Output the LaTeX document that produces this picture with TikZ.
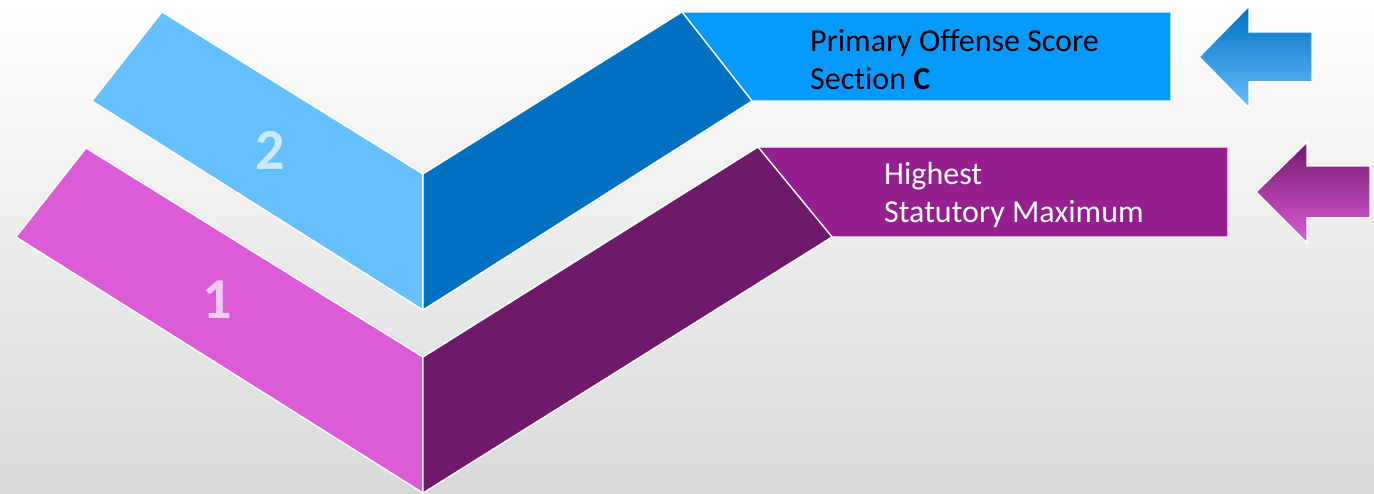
\documentclass[tikz,border=0pt]{standalone}
\usepackage{fontspec}
\setmainfont{Carlito}[RawFeature={-liga}]
\definecolor{lblue}{HTML}{66BFFF}
\definecolor{dblue}{HTML}{0070C0}
\definecolor{rblue}{HTML}{0399FF}
\definecolor{magen}{HTML}{DC5CD8}
\definecolor{dpurp}{HTML}{6F196A}
\definecolor{rpurp}{HTML}{951F8F}
\definecolor{bgbot}{HTML}{D9D9D9}
\definecolor{bgmid}{HTML}{F0F0F0}
\definecolor{numtwo}{HTML}{CDE9FF}
\definecolor{numone}{HTML}{F3C9F2}
\begin{document}
\begin{tikzpicture}[x=1pt,y=-1pt,
  panel/.style={draw=white, line width=1.3pt, line join=miter},
  bignum/.style={font=\bfseries\fontsize{58}{60}\selectfont, inner sep=0pt},
  label/.style={font=\fontsize{32}{38}\selectfont, align=left, anchor=base west, inner sep=0pt},
  arrowshape/.style={draw=white, line width=1.5pt, line join=miter}]
\useasboundingbox (0,0) rectangle (1374,494);
\shade[top color=white, middle color=bgmid, bottom color=bgbot] (0,0) rectangle (1374,494);
% level 2 (blue)
\fill[lblue, panel] (162,12) -- (92,101) -- (423,310) -- (423,174) -- cycle;
\fill[rblue, panel] (682,12) -- (1171,12) -- (1171,101) -- (752,101) -- cycle;
\fill[dblue, panel] (423,174) -- (682,12) -- (752,101) -- (423,310) -- cycle;
% level 1 (purple)
\fill[magen, panel] (86,148) -- (16,237) -- (423,493) -- (423,357) -- cycle;
\fill[rpurp, panel] (758,147) -- (1228,147) -- (1228,237) -- (832,237) -- cycle;
\fill[dpurp, panel] (423,357) -- (758,147) -- (832,237) -- (423,493) -- cycle;
% numbers
\node[bignum, text=numtwo] (n2) at (270,150) {2};
\node[bignum, text=numone] (n1) at (217,300) {1};
% labels (anchor = baseline of last line)
\node[label, text=black] (t2) at (810,90) {Primary Offense Score\\Section \textbf{C}};
\node[label, text=white] (t1) at (884,223) {Highest\\Statutory Maximum};
% arrows
\shade[top color=dblue, middle color=rblue, bottom color=lblue, arrowshape]
  (1199,57) -- (1249,6) -- (1249,32) -- (1312,32) -- (1312,82) -- (1249,82) -- (1249,108) -- cycle;
\shade[top color=dpurp, middle color=rpurp!85!magen, bottom color=magen, arrowshape]
  (1256,192) -- (1307,142) -- (1307,166) -- (1370,166) -- (1370,218) -- (1307,218) -- (1307,243) -- cycle;
\end{tikzpicture}
\end{document}
